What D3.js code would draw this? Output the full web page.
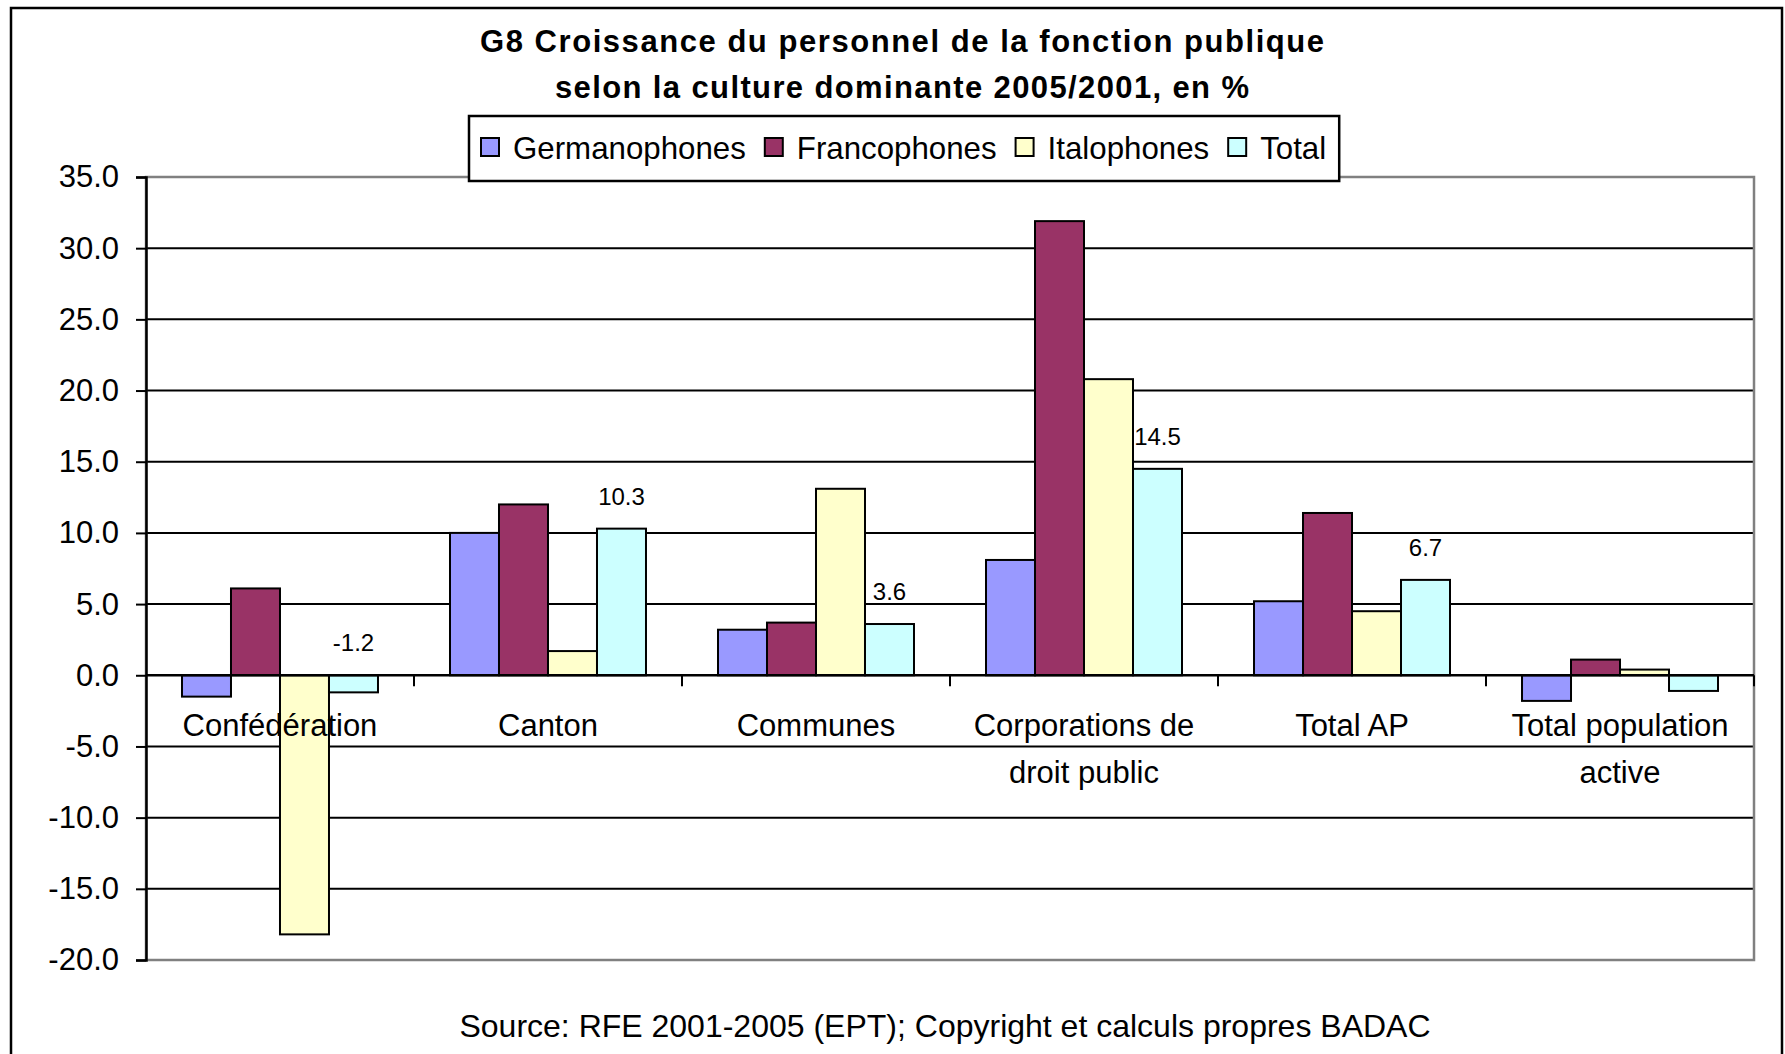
<!DOCTYPE html>
<html lang="fr">
	<head>
		<meta charset="utf-8">
		<title>G8 Croissance du personnel</title>
		<script type="text/javascript" src="https://cdn.jsdelivr.net/npm/d3@7"></script>
		<style type="text/css">
			* {
				margin: 0;
				padding: 0;
			}
			body {
				background-color: white;
				font-family: "Liberation Sans", Arial, sans-serif;
			}
			svg {
				display: block;
			}
			text {
				fill: black;
			}
			.grid line {
				stroke: black;
				stroke-width: 2;
			}
			.bar {
				stroke: black;
				stroke-width: 2;
			}
		</style>
	</head>
	<body>
		<div id="chart"></div>
		<script type="text/javascript">

			//Data
			var categories = [
				["Confédération"],
				["Canton"],
				["Communes"],
				["Corporations de", "droit public"],
				["Total AP"],
				["Total population", "active"]
			];
			var seriesNames = ["Germanophones", "Francophones", "Italophones", "Total"];
			var germanophones = [-1.5, 10.0, 3.2, 8.1, 5.2, -1.8];
			var francophones = [6.1, 12.0, 3.7, 31.9, 11.4, 1.1];
			var italophones = [-18.2, 1.7, 13.1, 20.8, 4.5, 0.4];
			var total = [-1.2, 10.3, 3.6, 14.5, 6.7, -1.1];
			var totalLabelled = [true, true, true, true, true, false];
			var yTicks = [-20, -15, -10, -5, 0, 5, 10, 15, 20, 25, 30, 35];
			var seriesColours = ["#9999ff", "#993366", "#ffffcc", "#ccffff"];

			var titleLines = [
				"G8 Croissance du personnel de la fonction publique",
				"selon la culture dominante 2005/2001, en %"
			];
			var sourceText = "Source: RFE 2001-2005 (EPT); Copyright et calculs propres BADAC";

			//Size
			var w = 1785;
			var h = 1054;
			var plot = {left: 146, right: 1754, top: 177, bottom: 960};

			var svg = d3.select("#chart")
				.append("svg")
				.attr("width", w)
				.attr("height", h);

			//outer frame (runs off the bottom like the original)
			svg.append("rect")
				.attr("x", 11)
				.attr("y", 8)
				.attr("width", 1771)
				.attr("height", 1100)
				.attr("fill", "white")
				.attr("stroke", "black")
				.attr("stroke-width", 2.5);

			var catIndex = d3.range(categories.length);
			var allSeries = [germanophones, francophones, italophones, total];

			var x0 = d3.scaleBand()
				.domain(catIndex)
				.range([plot.left, plot.right])
				.paddingInner(0.2687)
				.paddingOuter(0.1343);

			var x1 = d3.scaleBand()
				.domain(d3.range(seriesNames.length))
				.range([0, x0.bandwidth()]);

			var y = d3.scaleLinear()
				.domain([-20, 35])
				.range([plot.bottom, plot.top]);

			//gridlines
			svg.append("g")
				.attr("class", "grid")
				.selectAll("line")
				.data(yTicks.filter(function(d) { return d > -20 && d < 35 && d != 0; }))
				.enter()
				.append("line")
				.attr("x1", plot.left)
				.attr("x2", plot.right)
				.attr("y1", function(d) { return y(d); })
				.attr("y2", function(d) { return y(d); });

			//plot area border
			svg.append("rect")
				.attr("x", plot.left)
				.attr("y", plot.top)
				.attr("width", plot.right - plot.left)
				.attr("height", plot.bottom - plot.top)
				.attr("fill", "none")
				.attr("stroke", "#808080")
				.attr("stroke-width", 2.5);

			//bars
			var groups = svg.append("g")
				.selectAll("g")
				.data(catIndex)
				.enter()
				.append("g")
				.attr("transform", function(i) { return "translate(" + x0(i) + ",0)"; });

			groups.selectAll("rect")
				.data(function(i) {
					return allSeries.map(function(s, k) { return {k: k, v: s[i]}; });
				})
				.enter()
				.append("rect")
				.attr("class", "bar")
				.attr("x", function(d) { return x1(d.k); })
				.attr("width", x1.bandwidth())
				.attr("y", function(d) { return y(Math.max(0, d.v)); })
				.attr("height", function(d) { return Math.abs(y(d.v) - y(0)); })
				.attr("fill", function(d) { return seriesColours[d.k]; });

			//y axis
			var yAxis = d3.axisLeft(y)
				.tickValues(yTicks)
				.tickSize(10)
				.tickPadding(17)
				.tickFormat(function(d) { return d.toFixed(1); });

			var yG = svg.append("g")
				.attr("transform", "translate(" + plot.left + ",0)")
				.call(yAxis);
			yG.select(".domain")
				.attr("stroke", "black")
				.attr("stroke-width", 2.5);
			yG.selectAll(".tick line")
				.attr("stroke", "black")
				.attr("stroke-width", 2);
			yG.selectAll(".tick text")
				.attr("font-family", "Liberation Sans, Arial, sans-serif")
				.attr("font-size", 31)
				.attr("fill", "black");

			//zero axis with category ticks
			svg.append("line")
				.attr("x1", plot.left)
				.attr("x2", plot.right)
				.attr("y1", y(0))
				.attr("y2", y(0))
				.attr("stroke", "black")
				.attr("stroke-width", 2.5);

			svg.append("g")
				.selectAll("line")
				.data(catIndex)
				.enter()
				.append("line")
				.attr("x1", function(i) { return x0(i) + x0.bandwidth() + x0.step() * x0.paddingInner() / 2; })
				.attr("x2", function(i) { return x0(i) + x0.bandwidth() + x0.step() * x0.paddingInner() / 2; })
				.attr("y1", y(0))
				.attr("y2", y(0) + 11)
				.attr("stroke", "black")
				.attr("stroke-width", 2);

			//category labels
			var catLabels = svg.append("g")
				.selectAll("text")
				.data(catIndex)
				.enter()
				.append("text")
				.attr("text-anchor", "middle")
				.attr("font-size", 31)
				.attr("x", function(i) { return x0(i) + x0.bandwidth() / 2; })
				.attr("y", y(0) + 61);

			catLabels.selectAll("tspan")
				.data(function(i) { return categories[i]; })
				.enter()
				.append("tspan")
				.attr("x", function() { return this.parentNode.getAttribute("x"); })
				.attr("dy", function(d, j) { return j == 0 ? 0 : 47; })
				.text(function(d) { return d; });

			//value labels on the Total series
			svg.append("g")
				.selectAll("text")
				.data(catIndex.filter(function(i) { return totalLabelled[i]; }))
				.enter()
				.append("text")
				.attr("text-anchor", "middle")
				.attr("font-size", 24)
				.attr("x", function(i) { return x0(i) + x1(3) + x1.bandwidth() / 2; })
				.attr("y", function(i) { return y(Math.max(0, total[i])) - 24; })
				.text(function(i) { return total[i].toFixed(1); });

			//title
			svg.append("g")
				.selectAll("text")
				.data(titleLines)
				.enter()
				.append("text")
				.attr("text-anchor", "middle")
				.attr("font-size", 31)
				.attr("font-weight", "bold")
				.attr("x", 902)
				.attr("y", function(d, i) { return 52 + i * 46; })
				.attr("textLength", function(d, i) { return i == 0 ? 844 : 694; })
				.attr("lengthAdjust", "spacing")
				.text(function(d) { return d; });

			//legend
			var legend = svg.append("g");
			var legendBox = legend.append("rect")
				.attr("x", 469)
				.attr("y", 116)
				.attr("height", 65)
				.attr("fill", "white")
				.attr("stroke", "black")
				.attr("stroke-width", 2.5);

			var lx = 481;
			seriesNames.forEach(function(name, k) {
				legend.append("rect")
					.attr("x", lx)
					.attr("y", 138)
					.attr("width", 18)
					.attr("height", 18)
					.attr("fill", seriesColours[k])
					.attr("stroke", "black")
					.attr("stroke-width", 2);
				var t = legend.append("text")
					.attr("x", lx + 32)
					.attr("y", 159)
					.attr("font-size", 31.25)
					.text(name);
				lx = lx + 32 + t.node().getComputedTextLength() + 19;
			});
			legendBox.attr("width", lx - 19 + 13 - 469);

			//source
			svg.append("text")
				.attr("text-anchor", "middle")
				.attr("font-size", 32)
				.attr("x", 945)
				.attr("y", 1037)
				.text(sourceText);

		</script>
	</body>
</html>
